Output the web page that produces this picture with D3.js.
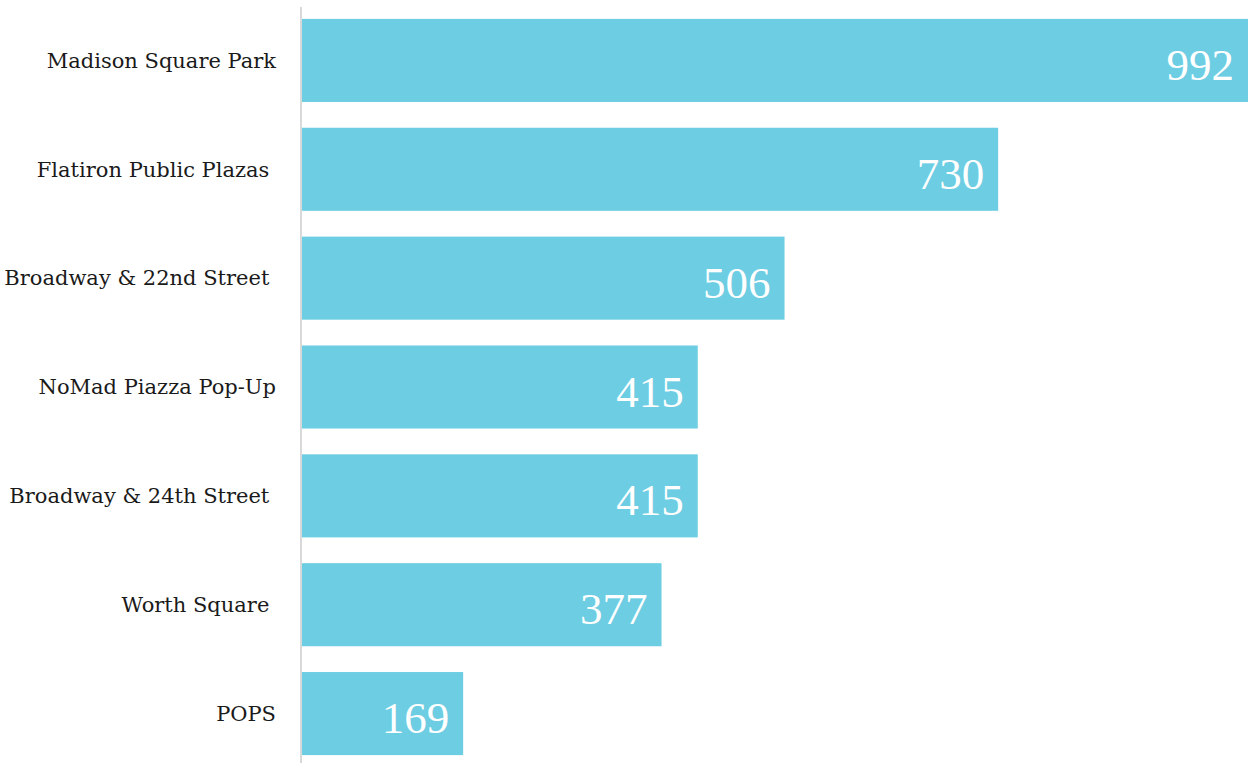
<!DOCTYPE html>
<html>
<head>
<meta charset="utf-8">
<script src="https://cdn.jsdelivr.net/npm/d3@7"></script>
<style>
  html, body { margin: 0; padding: 0; background: #fff; }
  svg { display: block; }
  .cat { font-family: "DejaVu Serif", "Liberation Serif", serif; font-size: 21px; fill: #1a1a1a; white-space: pre; }
  .val { font-family: "Liberation Serif", "DejaVu Serif", serif; font-size: 45px; fill: #fff; }
</style>
</head>
<body>
<svg id="chart" width="1248" height="763"></svg>
<script>
// Visitor counts per public space
const categories = [
  "Madison Square Park",
  "Flatiron Public Plazas ",
  "Broadway & 22nd Street ",
  "NoMad Piazza Pop-Up",
  "Broadway & 24th Street ",
  "Worth Square ",
  "POPS"
];
const values = [992, 730, 506, 415, 415, 377, 169];

const width = 1248, height = 763;
const svg = d3.select("#chart");

const x = d3.scaleLinear().domain([0, 992]).range([302, 1248]);
const y = d3.scaleBand()
  .domain(categories)
  .range([6, 768])
  .paddingInner(0.237)
  .paddingOuter(0.1185);

// bars
svg.append("g").selectAll("rect")
  .data(values)
  .join("rect")
  .attr("x", x(0))
  .attr("y", (d, i) => y(categories[i]))
  .attr("width", d => x(d) - x(0))
  .attr("height", y.bandwidth())
  .attr("fill", "#6dcde2");

// baseline axis
svg.append("line")
  .attr("x1", 301).attr("x2", 301)
  .attr("y1", 7).attr("y2", height)
  .attr("stroke", "#d9d9d9")
  .attr("stroke-width", 2);

// category labels
svg.append("g").selectAll("text")
  .data(categories)
  .join("text")
  .attr("class", "cat")
  .attr("x", 276)
  .attr("y", d => y(d) + y.bandwidth() / 2)
  .attr("dy", "0.35em")
  .attr("text-anchor", "end")
  .text(d => d);

// value labels inside bars
svg.append("g").selectAll("text")
  .data(values)
  .join("text")
  .attr("class", "val")
  .attr("x", d => x(d) - 14)
  .attr("y", (d, i) => y(categories[i]) + y.bandwidth() / 2 + 19.5)
  .attr("text-anchor", "end")
  .text(d => d);
</script>
</body>
</html>
